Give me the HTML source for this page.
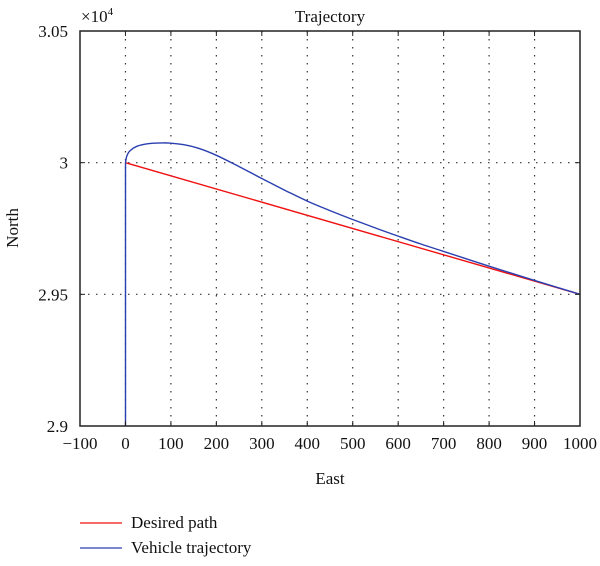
<!DOCTYPE html>
<html><head><meta charset="utf-8"><style>
body{margin:0;background:#fff;font-family:"Liberation Serif",serif;}
svg text{font-family:"Liberation Serif",serif;fill:#111;}
</style></head><body>
<svg id="chart" width="600" height="561"></svg>
<script>
const xTicks=[-100,0,100,200,300,400,500,600,700,800,900,1000];
const yTicks=[2.9,2.95,3.0,3.05];
const yTickLabels=["2.9","2.95","3","3.05"];
const desiredX=[0,1000];
const desiredY=[30000,29500];
const vehicleX=[0,0,3,10,25,50,83,100,130,160,200,250,300,350,400,450,500,550,600,650,700,800,900,1000];
const vehicleY=[29000,30000,30025,30045,30062,30072,30075,30074,30068,30055,30028,29985,29940,29896,29854,29818,29784,29752,29721,29691,29663,29607,29553,29500];
const L=80,R=580,T=31,B=426;
const sx=v=>L+(v+100)/1100*(R-L);
const sy=v=>B-(v/10000-2.9)/0.15*(B-T);
const svg=document.getElementById('chart');
const NS='http://www.w3.org/2000/svg';
function mk(tag,attrs,parent){const e=document.createElementNS(NS,tag);for(const k in attrs)e.setAttribute(k,attrs[k]);(parent||svg).appendChild(e);return e;}
xTicks.forEach(t=>{if(t>-100&&t<1000){const g=mk('line',{x1:sx(t),x2:sx(t),y1:T,y2:B,stroke:'#333','stroke-width':1.2,'stroke-dasharray':'1.5,6.5'});

}});
yTicks.forEach(t=>{if(t>2.9&&t<3.05){const g=mk('line',{x1:L,x2:R,y1:sy(t*10000),y2:sy(t*10000),stroke:'#333','stroke-width':1.2,'stroke-dasharray':'1.5,6.5'});

}});
function path(xs,ys){
  const p=xs.map((x,i)=>[sx(x),sy(ys[i])]);
  let d='M'+p[0][0].toFixed(1)+','+p[0][1].toFixed(1)+'L'+p[1][0].toFixed(1)+','+p[1][1].toFixed(1);
  for(let i=1;i<p.length-1;i++){
    const p0=p[Math.max(i-1,1)],p1=p[i],p2=p[i+1],p3=p[Math.min(i+2,p.length-1)];
    const c1=[p1[0]+(p2[0]-p0[0])/6,p1[1]+(p2[1]-p0[1])/6];
    const c2=[p2[0]-(p3[0]-p1[0])/6,p2[1]-(p3[1]-p1[1])/6];
    d+='C'+c1.map(v=>v.toFixed(1)).join(',')+' '+c2.map(v=>v.toFixed(1)).join(',')+' '+p2.map(v=>v.toFixed(1)).join(',');
  }
  return d;
}
function line(xs,ys){return xs.map((x,i)=>(i?'L':'M')+sx(x).toFixed(1)+','+sy(ys[i]).toFixed(1)).join('');}
const d=mk('path',{d:line(desiredX,desiredY),fill:'none',stroke:'#f01010','stroke-width':1.4});


const v=mk('path',{d:path(vehicleX,vehicleY),fill:'none',stroke:'#2a3fb0','stroke-width':1.4,'stroke-linejoin':'round'});


const box=mk('rect',{x:L,y:T,width:R-L,height:B-T,fill:'none',stroke:'#222','stroke-width':1.5});


xTicks.forEach(t=>{mk('line',{x1:sx(t),x2:sx(t),y1:B,y2:B-5,stroke:'#222'});mk('line',{x1:sx(t),x2:sx(t),y1:T,y2:T+5,stroke:'#222'});
const tx=mk('text',{x:sx(t),y:B+23,'text-anchor':'middle','font-size':17});tx.textContent=(t<0?'\u2212'+(-t):t);

});
yTicks.forEach((t,i)=>{const y=sy(t*10000);mk('line',{x1:L,x2:L+5,y1:y,y2:y,stroke:'#222'});mk('line',{x1:R,x2:R-5,y1:y,y2:y,stroke:'#222'});
const tx=mk('text',{x:L-12,y:y+6,'text-anchor':'end','font-size':17});tx.textContent=yTickLabels[i];

});
</script>
<svg width="600" height="561" style="position:absolute;left:0;top:0">
<text x="81" y="22" font-size="17">×10<tspan font-size="11" dy="-7">4</tspan></text>
<text x="330" y="22" font-size="17" text-anchor="middle">Trajectory</text>
<text x="330" y="484" font-size="17" text-anchor="middle">East</text>
<text x="18" y="228" font-size="17" text-anchor="middle" transform="rotate(-90 18 228)">North</text>
<g>
<line x1="80" x2="122" y1="523" y2="523" stroke="#f01010" stroke-width="1.3"/>
<text x="131" y="528" font-size="17">Desired path</text>
<line x1="80" x2="122" y1="548" y2="548" stroke="#2a3fb0" stroke-width="1.3"/>
<text x="131" y="553" font-size="17">Vehicle trajectory</text>
</g>
</svg>
</body></html>
